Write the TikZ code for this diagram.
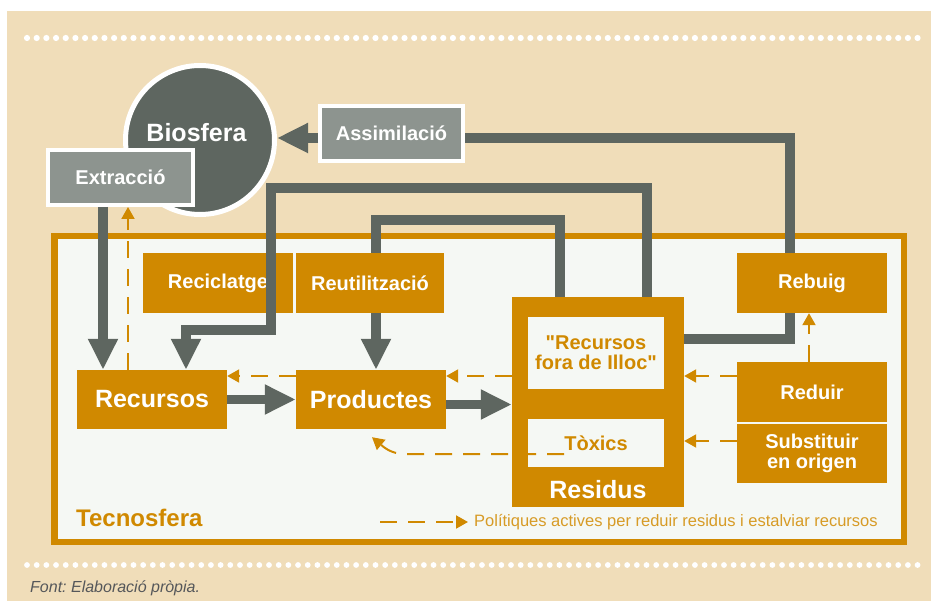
\documentclass[tikz,border=0pt]{standalone}
\usepackage{fontspec}
\setmainfont{Liberation Sans}[Ligatures=TeXOff]
\usetikzlibrary{arrows.meta,calc}
\frenchspacing
\definecolor{tanbg}{HTML}{F0DDB9}
\definecolor{orng}{HTML}{D08900}
\definecolor{dgray}{HTML}{5E6660}
\definecolor{mgray}{HTML}{8D948F}
\definecolor{innerbg}{HTML}{F5F8F4}
\definecolor{foot}{HTML}{55575A}
\pgfdeclarelayer{bg}
\pgfdeclarelayer{mid}
\pgfsetlayers{bg,mid,main}
\tikzset{
  obox/.style={fill=orng, text=white, font=\fontsize{20}{20}\selectfont\bfseries,
    minimum width=150pt, minimum height=60pt, inner sep=0pt, align=center},
  bigtxt/.style={text=white, font=\fontsize{25}{25}\selectfont\bfseries, inner sep=0pt},
  wbox/.style={fill=innerbg, text=orng, font=\fontsize{20}{20}\selectfont\bfseries,
    minimum width=136pt, inner sep=0pt, align=center},
  gbox/.style={fill=mgray, draw=white, line width=4pt, text=white,
    font=\fontsize{20}{20}\selectfont\bfseries, minimum width=145pt, minimum height=55pt, inner sep=0pt},
  gline/.style={draw=dgray, line width=9.5pt},
  garrow/.style={gline, -{Triangle[width=28pt,length=31pt]}},
  darrow/.style={draw=orng, line width=2pt, dash pattern=on 17pt off 11pt,
    -{Triangle[width=13pt,length=12pt]}},
}
\begin{document}
\begin{tikzpicture}[x=1pt,y=-1pt]
\useasboundingbox (0,0) rectangle (931,601);
\begin{pgfonlayer}{bg}
  \fill[white] (0,0) rectangle (931,601);
  \fill[tanbg] (7,11) rectangle (931,601);
  \foreach \i in {0,...,92} {
    \fill[white] (27+\i*9.68,38) circle (3.1);
    \fill[white] (27+\i*9.68,565) circle (2.9);
  }
  \node[draw=orng, line width=6.5pt, fill=innerbg, minimum width=849.5pt,
    minimum height=305.5pt, inner sep=0pt] (tecno) at (479,389) {};
\end{pgfonlayer}

% biosphere and boxes
\node[circle, fill=dgray, draw=white, line width=5pt, minimum size=149pt, inner sep=0pt] (Biosfera) at (200,140) {};
\node[bigtxt] (biotxt) at (196.5,133) {Biosfera};
\node[gbox] (Extraccio) at (120.5,177.5) {Extracció};
\node[gbox, minimum width=143pt] (Assimilacio) at (391.5,133.5) {Assimilació};

\node[obox] (Reciclatge) at (218,283) {Reciclatge};
\node[obox, minimum width=148pt] (Reutilitzacio) at (370,283) {Reutilització};
\node[obox, minimum height=59pt, font=\fontsize{25}{25}\selectfont\bfseries] (Recursos) at (152,399.5) {Recursos};
\node[obox, minimum height=59pt, font=\fontsize{25}{25}\selectfont\bfseries] (Productes) at (371,399.5) {Productes};
\node[obox, minimum width=172pt, minimum height=210pt] (Residus) at (598,402) {};
\node[bigtxt] (residustxt) at ([yshift=18pt]Residus.south) {Residus};
\node[wbox, minimum height=72pt] (fora) at (596,353) {"Recursos\\fora de Illoc"};
\node[wbox, minimum height=48pt] (Toxics) at (596,443) {};
\node[text=orng, font=\fontsize{20}{20}\selectfont\bfseries, inner sep=0pt] (toxtxt) at (596,443) {Tòxics};
\node[obox] (Rebuig) at (812,283) {Rebuig};
\node[obox] (Reduir) at (812,392) {Reduir};
\node[obox, minimum height=59pt] (Substituir) at (812,453.5) {Substituir\\en origen};

% gray flows
\coordinate (ex1) at ([xshift=-17.5pt]Extraccio.south);
\draw[garrow] (ex1) -- (ex1 |- Recursos.north);
\coordinate (r3) at ([xshift=-37pt]Residus.north east);
\coordinate (r3b) at ([xshift=34pt]Recursos.north);
\draw[garrow] (r3) |- (271,188) |- (186,330) -- (r3b);
\begin{pgfonlayer}{mid}
  \coordinate (r4) at ([xshift=-38pt]Residus.north);
  \coordinate (r4b) at ([xshift=5pt]Productes.north);
  \draw[garrow] (r4) |- (376,220) -- (r4b);
\end{pgfonlayer}
\draw[garrow] (Recursos.east) -- (Productes.west);
\coordinate (p1) at ([yshift=-5pt]Productes.east);
\draw[garrow] (p1) -- (p1 -| Residus.west);
\coordinate (r5) at ([yshift=63pt]Residus.east);
\coordinate (rb) at ([xshift=-22pt]Rebuig.south);
\draw[gline] (r5) -| (rb);
\coordinate (rt) at ([xshift=-22pt]Rebuig.north);
\coordinate (a1) at ([yshift=-4.5pt]Assimilacio.east);
\coordinate (a2) at ([yshift=-4.5pt]Assimilacio.west);
\draw[gline] (rt) |- (a1);
\draw[garrow] (a2) -- (a2 -| Biosfera.east);

% dashed policy arrows
\coordinate (d1) at ([yshift=23.5pt]Productes.west);
\draw[darrow] (d1) -- (d1 -| Recursos.east);
\coordinate (d2) at ([yshift=26pt]Residus.west);
\draw[darrow] (d2) -- (d2 -| Productes.east);
\coordinate (d3) at ([yshift=16pt]Reduir.west);
\draw[darrow] (d3) -- (d3 -| Residus.east);
\coordinate (d4) at ([yshift=12.5pt]Substituir.west);
\draw[darrow] (d4) -- (d4 -| Residus.east);
\coordinate (d5) at ([xshift=-3pt]Reduir.north);
\draw[darrow] (d5) -- (d5 |- Rebuig.south);
\coordinate (d6) at ([xshift=-32pt,yshift=-11pt]Toxics.center);
\coordinate (d6e) at ([xshift=1pt,yshift=-8pt]Productes.south);
\draw[darrow] (d6) -- (405,454) to[out=180,in=-40] (d6e);
\coordinate (d7) at ([xshift=-24pt]Recursos.north);
\draw[darrow] (d7) -- (d7 |- Extraccio.south);

% labels
\node[text=orng, font=\fontsize{24}{24}\selectfont\bfseries, anchor=west, inner sep=0pt] (tecnotxt) at (76,518) {Tecnosfera};
\node[text=orng!85, font=\fontsize{16.5}{16.5}\selectfont, anchor=west, inner sep=0pt] (leg) at (474,522) {Polítiques actives per reduir residus i estalviar recursos};
\coordinate (l1) at (380,522);
\draw[darrow] (l1) -- ([xshift=-6pt]leg.west);
\node[text=foot, font=\fontsize{16}{16}\selectfont\itshape, anchor=west, inner sep=0pt] (font) at (30,588) {Font: Elaboració pròpia.};
\end{tikzpicture}
\end{document}
